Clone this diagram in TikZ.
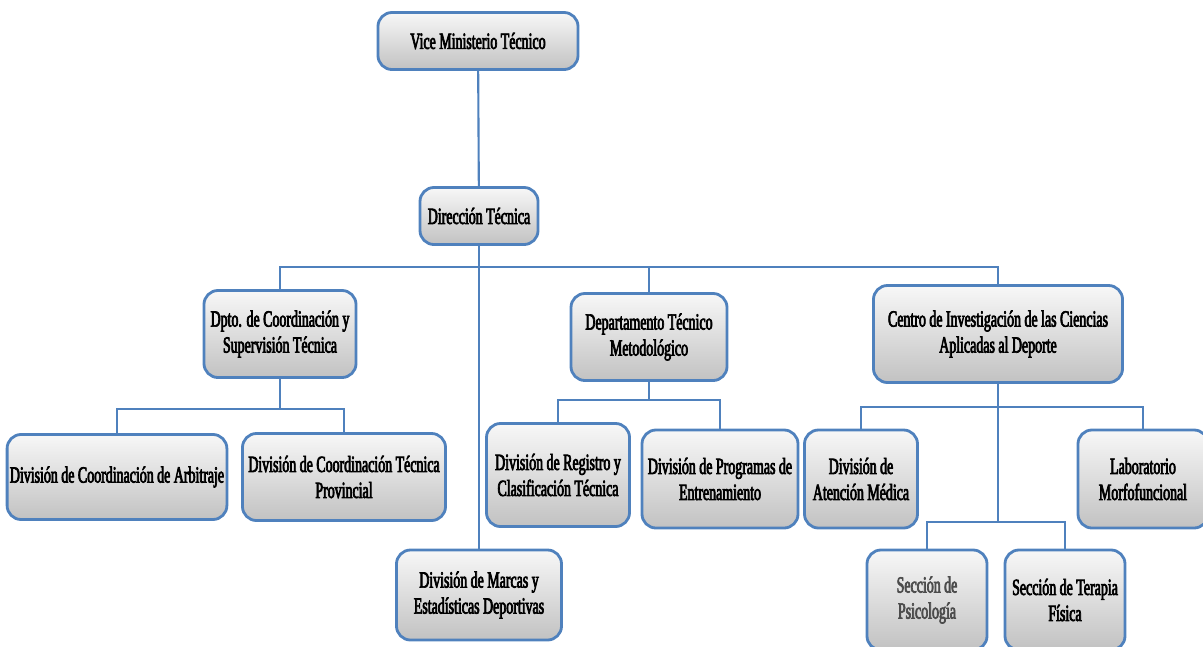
\documentclass[tikz,border=0pt]{standalone}
\usepackage{fontspec}
\setmainfont{Liberation Serif}[FakeStretch=0.6, FakeBold=3]
\usetikzlibrary{positioning, calc}
\definecolor{boxblue}{HTML}{4F81BD}

\begin{document}
\begin{tikzpicture}[
    x=0.025cm, y=-0.025cm,
    unit/.style={rectangle, rounded corners=0.35cm, draw=boxblue, line width=2pt,
        top color=gray!6, bottom color=gray!48, align=center, inner sep=2pt,
        font=\fontsize{16.5}{18.5}\selectfont},
    link/.style={draw=boxblue, line width=1.5pt}
]
    \useasboundingbox (0,0) rectangle (1203,646);

    \node[unit, minimum width=5cm, minimum height=1.425cm] (vice) at (478,41) {Vice Ministerio Técnico};
    \node[unit, minimum width=2.95cm, minimum height=1.425cm] (dir) at (479,216) {Dirección Técnica};

    \node[unit, minimum width=3.8cm, minimum height=2.175cm] (dpto) at (280,334) {Dpto. de Coordinación y\\Supervisión Técnica};
    \node[unit, minimum width=3.9cm, minimum height=2.175cm] (metod) at (649,337) {Departamento Técnico\\Metodológico};
    \node[unit, minimum width=6.225cm, minimum height=2.425cm] (centro) at (998,334) {Centro de Investigación de las Ciencias\\Aplicadas al Deporte};

    \node[unit, minimum width=5.375cm, minimum height=2.125cm] (arbitraje) at (117,477) {División de Coordinación de Arbitraje};
    \node[unit, minimum width=5.075cm, minimum height=2.175cm] (provincial) at (344,477) {División de Coordinación Técnica\\Provincial};
    \node[unit, minimum width=3.575cm, minimum height=2.575cm] (registro) at (558,475) {División de Registro y\\Clasificación Técnica};
    \node[unit, minimum width=3.9cm, minimum height=2.45cm] (programas) at (720,479) {División de Programas de\\Entrenamiento};
    \node[unit, minimum width=2.825cm, minimum height=2.45cm] (medica) at (861,479) {División de\\Atención Médica};
    \node[unit, minimum width=3.25cm, minimum height=2.45cm] (lab) at (1143,479) {Laboratorio\\Morfofuncional};

    \node[unit, minimum width=4.125cm, minimum height=2.25cm] (marcas) at (479,595) {División de Marcas y\\Estadísticas Deportivas};
    \node[unit, minimum width=3cm, minimum height=2.5cm, text=black!70] (psico) at (927,600) {Sección de\\Psicología};
    \node[unit, minimum width=3cm, minimum height=2.5cm] (terapia) at (1065,600) {Sección de Terapia\\Física};

    \coordinate (b1) at (479,267);
    \coordinate (b2) at (280,409);
    \coordinate (b3) at (649,400);
    \coordinate (b4) at (998,407);
    \coordinate (b5) at (998,522);

    \draw[link] (vice) -- (dir);
    \draw[link] (dir) -- (marcas);
    \draw[link] (dpto.north) |- (b1) -| (centro.north);
    \draw[link] (b1) -| (metod.north);
    \draw[link] (dpto) -- (b2);
    \draw[link] (arbitraje.north) |- (b2) -| (provincial.north);
    \draw[link] (metod) -- (b3);
    \draw[link] (registro.north) |- (b3) -| (programas.north);
    \draw[link] (centro) -- (b5);
    \draw[link] (medica.north) |- (b4) -| (lab.north);
    \draw[link] (psico.north) |- (b5) -| (terapia.north);
\end{tikzpicture}
\end{document}
